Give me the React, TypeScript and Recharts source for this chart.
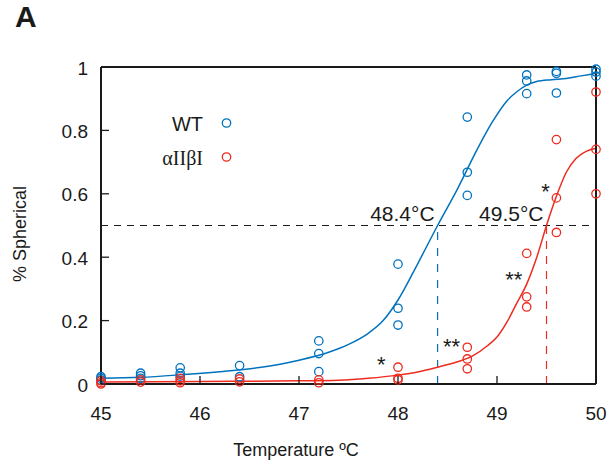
import React from 'react';
import {
  ComposedChart,
  Scatter,
  Line,
  XAxis,
  YAxis,
  ReferenceLine,
  ReferenceDot,
} from 'recharts';

// measured temperatures (three replicates, some overlap)
const wtTemps = [
  45, 45, 45, 45.4, 45.4, 45.4, 45.8, 45.8, 45.8, 46.4, 46.4, 47.2, 47.2, 47.2,
  48, 48, 48, 48.7, 48.7, 48.7, 49.3, 49.3, 49.3, 49.6, 49.6, 49.6, 50, 50, 50,
];
const wtValues = [
  0.023, 0.018, 0.012, 0.034, 0.026, 0.018, 0.051, 0.034, 0.025, 0.058, 0.023,
  0.136, 0.096, 0.039, 0.378, 0.239, 0.186, 0.842, 0.668, 0.595, 0.975, 0.956,
  0.916, 0.986, 0.98, 0.918, 0.993, 0.984, 0.971,
];
const mutTemps = [
  45, 45, 45, 45.4, 45.4, 45.8, 45.8, 45.8, 46.4, 46.4, 47.2, 47.2, 48, 48, 48,
  48.7, 48.7, 48.7, 49.3, 49.3, 49.3, 49.6, 49.6, 49.6, 50, 50, 50,
];
const mutValues = [
  0.01, 0.004, 0.0, 0.013, 0.006, 0.018, 0.01, 0.004, 0.016, 0.007, 0.013,
  0.004, 0.053, 0.018, 0.013, 0.116, 0.079, 0.048, 0.412, 0.275, 0.243, 0.771,
  0.587, 0.478, 0.921, 0.74, 0.6,
];

// fitted curves
const wtFitTemps = [
  45, 45.4, 45.8, 46.2, 46.6, 47, 47.3, 47.5, 47.7, 47.85, 48, 48.2, 48.4, 48.6,
  48.8, 48.95, 49.1, 49.2, 49.3, 49.4, 49.55, 49.7, 49.85, 50,
];
const wtFitValues = [
  0.018, 0.021, 0.029, 0.039, 0.052, 0.075, 0.1, 0.125, 0.16, 0.2, 0.265, 0.38,
  0.5, 0.615, 0.74, 0.825, 0.893, 0.922, 0.943, 0.954, 0.96, 0.964, 0.972, 0.98,
];
const mutFitTemps = [
  45, 46, 47, 47.4, 47.7, 48, 48.2, 48.4, 48.6, 48.75, 48.9, 49, 49.1, 49.2,
  49.3, 49.4, 49.5, 49.6, 49.7, 49.8, 49.9, 50,
];
const mutFitValues = [
  0.006, 0.008, 0.01, 0.012, 0.018, 0.028, 0.038, 0.053, 0.07, 0.088, 0.12,
  0.148, 0.195, 0.255, 0.315, 0.398, 0.5, 0.592, 0.668, 0.712, 0.734, 0.744,
];

const seriesNames = ['WT', 'αIIβI'];
const xTicks = [45, 46, 47, 48, 49, 50];
const yTicks = [0, 0.2, 0.4, 0.6, 0.8, 1];
const midpoints = [48.4, 49.5];
const midLabels = ['48.4°C', '49.5°C'];
// significance marks [temp, value, text]
const stars: [number, number, string][] = [
  [47.83, 0.075, '*'],
  [48.54, 0.133, '**'],
  [49.17, 0.344, '**'],
  [49.49, 0.623, '*'],
];

const BLUE = '#0072BD';
const RED = '#EE2B1F';
const INK = '#1a1a1a';
const FONT = '"Liberation Sans", Arial, sans-serif';

const zip = (xs: number[], ys: number[]) => xs.map((x, i) => ({ x, y: ys[i] }));
const wtData = zip(wtTemps, wtValues);
const mutData = zip(mutTemps, mutValues);
const wtFit = zip(wtFitTemps, wtFitValues);
const mutFit = zip(mutFitTemps, mutFitValues);

const TICK = 8;

const ring = (color: string) => (p: any) => (
  <circle cx={p.cx} cy={p.cy} r={4.2} fill="none" stroke={color} strokeWidth={1.3} />
);

const BottomTick = (p: any) => (
  <g>
    <line x1={p.x} x2={p.x} y1={p.y} y2={p.y - TICK} stroke={INK} strokeWidth={1.3} />
    <text x={p.x} y={p.y + 29} textAnchor="middle" dominantBaseline="central" fontSize={19} fill={INK} fontFamily={FONT}>
      {p.payload.value}
    </text>
  </g>
);
const TopTick = (p: any) => (
  <line x1={p.x} x2={p.x} y1={p.y} y2={p.y + TICK} stroke={INK} strokeWidth={1.3} />
);
const LeftTick = (p: any) => (
  <g>
    <line x1={p.x} x2={p.x + TICK} y1={p.y} y2={p.y} stroke={INK} strokeWidth={1.3} />
    <text x={p.x - 13} y={p.y + 1} textAnchor="end" dominantBaseline="central" fontSize={19} fill={INK} fontFamily={FONT}>
      {p.payload.value}
    </text>
  </g>
);
const RightTick = (p: any) => (
  <line x1={p.x} x2={p.x - TICK} y1={p.y} y2={p.y} stroke={INK} strokeWidth={1.3} />
);

export default function App() {
  return (
    <div style={{ position: 'absolute', left: 0, top: 0, width: 614, height: 469, background: '#fff' }}>
      <ComposedChart
        width={614}
        height={469}
        margin={{ top: 57, right: 8, bottom: 45, left: 51 }}
      >
        <XAxis
          dataKey="x"
          type="number"
          domain={[45, 50]}
          ticks={xTicks}
          tickSize={0}
          tickMargin={0}
          height={40}
          axisLine={{ stroke: INK, strokeWidth: 2 }}
          tick={<BottomTick />}
          interval={0}
        />
        <XAxis
          xAxisId="top"
          orientation="top"
          dataKey="x"
          type="number"
          domain={[45, 50]}
          ticks={xTicks}
          tickSize={0}
          tickMargin={0}
          height={10}
          axisLine={{ stroke: INK, strokeWidth: 2 }}
          tick={<TopTick />}
          interval={0}
        />
        <YAxis
          dataKey="y"
          type="number"
          domain={[0, 1]}
          ticks={yTicks}
          tickSize={0}
          tickMargin={0}
          width={50}
          axisLine={{ stroke: INK, strokeWidth: 2 }}
          tick={<LeftTick />}
          interval={0}
        />
        <YAxis
          yAxisId="right"
          orientation="right"
          dataKey="y"
          type="number"
          domain={[0, 1]}
          ticks={yTicks}
          tickSize={0}
          tickMargin={0}
          width={10}
          axisLine={{ stroke: INK, strokeWidth: 2 }}
          tick={<RightTick />}
          interval={0}
        />

        <ReferenceLine y={0.5} stroke={INK} strokeWidth={1.2} strokeDasharray="7 6" />
        <ReferenceLine
          segment={[{ x: midpoints[0], y: 0 }, { x: midpoints[0], y: 0.5 }]}
          stroke={BLUE}
          strokeWidth={1.2}
          strokeDasharray="8 8"
        />
        <ReferenceLine
          segment={[{ x: midpoints[1], y: 0 }, { x: midpoints[1], y: 0.5 }]}
          stroke={RED}
          strokeWidth={1.2}
          strokeDasharray="8 7"
        />

        <Line data={wtFit} dataKey="y" type="monotone" stroke={BLUE} strokeWidth={1.5} dot={false} isAnimationActive={false} />
        <Line data={mutFit} dataKey="y" type="monotone" stroke={RED} strokeWidth={1.5} dot={false} isAnimationActive={false} />

        <Scatter data={wtData} dataKey="y" shape={ring(BLUE)} isAnimationActive={false} />
        <Scatter data={mutData} dataKey="y" shape={ring(RED)} isAnimationActive={false} />

        {midpoints.map((m, i) => (
          <ReferenceDot
            key={m}
            x={m}
            y={0.5}
            r={0}
            shape={(p: any) => (
              <text x={p.cx - 3} y={p.cy - 5} textAnchor="end" fontSize={21} fill={INK} fontFamily={FONT}>
                {midLabels[i]}
              </text>
            )}
          />
        ))}
        {stars.map(([sx, sy, s]) => (
          <ReferenceDot
            key={`${sx}-${sy}`}
            x={sx}
            y={sy}
            r={0}
            shape={(p: any) => (
              <text x={p.cx} y={p.cy + 12} textAnchor="middle" fontSize={22} fill={INK} fontFamily={FONT}>
                {s}
              </text>
            )}
          />
        ))}
      </ComposedChart>

      {/* panel letter */}
      <div style={{ position: 'absolute', left: 15, top: 0, fontFamily: FONT, fontWeight: 'bold', fontSize: 30, color: INK }}>
        A
      </div>

      {/* axis titles */}
      <div
        style={{
          position: 'absolute',
          left: 20,
          top: 234,
          transform: 'translate(-50%, -50%) rotate(-90deg)',
          whiteSpace: 'nowrap',
          fontFamily: FONT,
          fontSize: 18,
          color: INK,
        }}
      >
        % Spherical
      </div>
      <div
        style={{
          position: 'absolute',
          left: 296,
          top: 450,
          transform: 'translate(-50%, -50%)',
          whiteSpace: 'nowrap',
          fontFamily: FONT,
          fontSize: 18,
          color: INK,
        }}
      >
        Temperature ºC
      </div>

      {/* legend */}
      <svg style={{ position: 'absolute', left: 0, top: 0 }} width={614} height={469} pointerEvents="none">
        <text x={203} y={124} textAnchor="end" dominantBaseline="central" fontSize={20} fill={INK} fontFamily={FONT}>
          {seriesNames[0]}
        </text>
        <circle cx={226.5} cy={123} r={4.2} fill="none" stroke={BLUE} strokeWidth={1.3} />
        <text x={203} y={158} textAnchor="end" dominantBaseline="central" fontSize={20} fill={INK} fontFamily={'"Liberation Serif", "Times New Roman", serif'}>
          {seriesNames[1]}
        </text>
        <circle cx={226.5} cy={157} r={4.2} fill="none" stroke={RED} strokeWidth={1.3} />
      </svg>
    </div>
  );
}
